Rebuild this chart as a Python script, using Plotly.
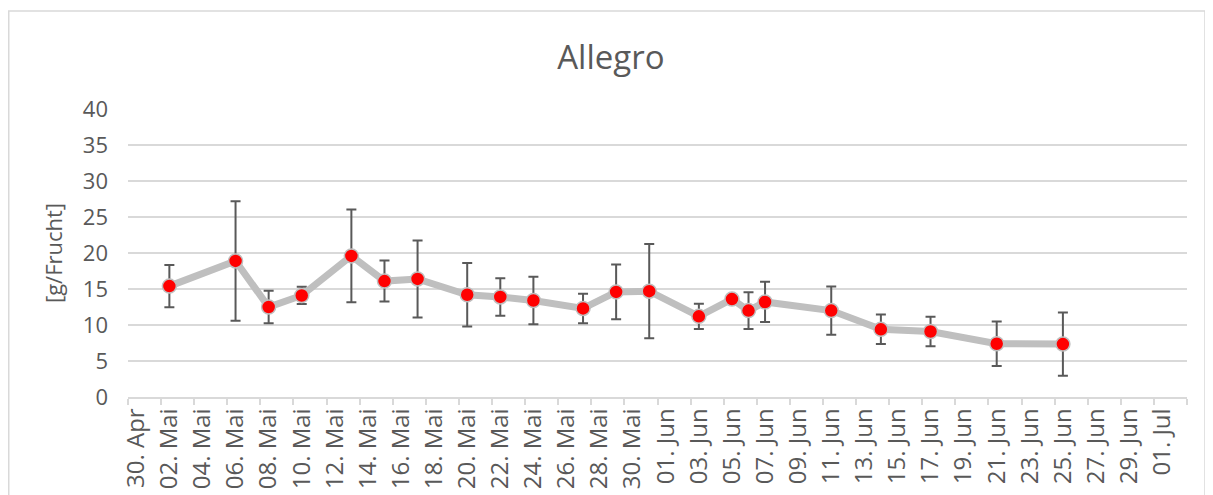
import pandas as pd
import plotly.graph_objects as go

# sampling dates and means [g/Frucht] with standard deviation
dates = ['2019-05-02', '2019-05-06', '2019-05-08', '2019-05-10', '2019-05-13',
         '2019-05-15', '2019-05-17', '2019-05-20', '2019-05-22', '2019-05-24',
         '2019-05-27', '2019-05-29', '2019-05-31', '2019-06-03', '2019-06-05',
         '2019-06-06', '2019-06-07', '2019-06-11', '2019-06-14', '2019-06-17',
         '2019-06-21', '2019-06-25']
means = [15.4, 18.9, 12.5, 14.1, 19.6, 16.1, 16.4, 14.2, 13.9, 13.4, 12.3,
         14.6, 14.7, 11.2, 13.6, 12.0, 13.2, 12.0, 9.4, 9.1, 7.4, 7.35]
sd = [2.95, 8.3, 2.25, 1.2, 6.45, 2.85, 5.35, 4.4, 2.6, 3.3, 2.05,
      3.8, 6.55, 1.75, 0, 2.55, 2.8, 3.35, 2.05, 2.05, 3.1, 4.4]

# x axis: labels every second day, German month names
monate = {4: 'Apr', 5: 'Mai', 6: 'Jun', 7: 'Jul'}
tick_dates = pd.date_range('2019-04-30', '2019-07-01', freq='2D')
tick_labels = [f'{d.day:02d}. {monate[d.month]}' for d in tick_dates]
# tick marks sit between the day slots (Excel date axis)
tick_marks = pd.date_range('2019-04-29 12:00', '2019-07-02 12:00', freq='2D')

grey_txt = '#595959'
grid = '#D9D9D9'
fnt = 'Open Sans'

fig = go.Figure()
fig.add_trace(go.Scatter(
    x=dates, y=means, mode='lines+markers',
    line=dict(color='#BFBFBF', width=7),
    marker=dict(color='#FF0000', size=14, line=dict(color='#BFBFBF', width=1.5)),
    error_y=dict(type='data', array=sd, visible=True, color=grey_txt,
                 thickness=2, width=5),
    showlegend=False,
))

fig.update_layout(
    width=1213, height=495,
    margin=dict(l=120, r=34, t=101, b=106),
    paper_bgcolor='white', plot_bgcolor='white',
    font=dict(family=fnt, color=grey_txt, size=20),
    title=dict(text='Allegro', x=0.497, xanchor='center', y=0.9, yanchor='middle',
               font=dict(family=fnt, size=33, color=grey_txt)),
    xaxis=dict(
        type='date', range=['2019-04-29 12:00', '2019-07-02 12:00'],
        tickmode='array', tickvals=tick_dates, ticktext=tick_labels,
        tickangle=-90, ticks='', showgrid=False,
        showline=True, linecolor=grid, linewidth=1.5,
        tickfont=dict(family=fnt, size=24, color=grey_txt),
        minor=dict(tickmode='array', tickvals=tick_marks, ticks='outside',
                   ticklen=6, tickwidth=1.5, tickcolor=grid, showgrid=False),
    ),
    yaxis=dict(
        range=[0, 40], dtick=5, showgrid=True, gridcolor=grid, gridwidth=1.5,
        zeroline=False, ticks='', ticklabelstandoff=19,
        tickfont=dict(family=fnt, size=22, color=grey_txt),
        title=dict(text='[g/Frucht]', font=dict(family=fnt, size=22, color=grey_txt),
                   standoff=14),
    ),
    shapes=[dict(type='rect', xref='paper', yref='paper',
                 x0=-0.1126, x1=1.017, y0=-0.5, y1=1.34,
                 line=dict(color=grid, width=1.5), fillcolor='rgba(0,0,0,0)')],
)

fig.write_html('out.html')
